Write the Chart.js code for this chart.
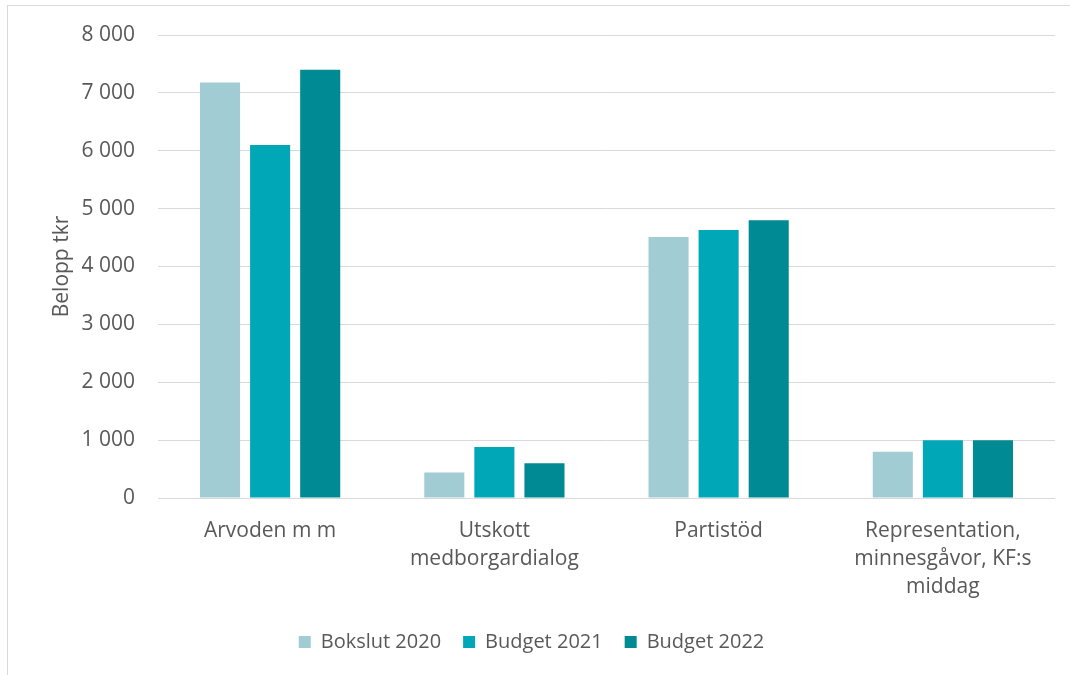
<!DOCTYPE html>
<html>
<head>
<meta charset="utf-8">
<script src="https://cdn.jsdelivr.net/npm/chart.js@4"></script>
<style>
    html, body { margin: 0; padding: 0; background: #fff; }
    #frame {
        position: absolute; left: 7px; top: 5px; width: 1063px; height: 670px;
        border-left: 1px solid #d9d9d9; border-top: 1px solid #d9d9d9;
    }
    #frame canvas { display: block; }
</style>
</head>
<body>
<div id="frame"><canvas id="mainChart" width="1062" height="669"></canvas></div>
<script>
    const categories = [
        'Arvoden m m',
        ['Utskott', 'medborgardialog'],
        'Partistöd',
        ['Representation,', 'minnesgåvor, KF:s', 'middag']
    ];
    const bokslut2020 = [7180, 440, 4510, 800];
    const budget2021 = [6100, 880, 4630, 1000];
    const budget2022 = [7400, 600, 4800, 1000];
    const yTicks = [0, 1000, 2000, 3000, 4000, 5000, 6000, 7000, 8000];

    const textColor = '#595959';
    const fontFamily = '"Open Sans", "Noto Sans", sans-serif';

    const ctx = document.getElementById('mainChart').getContext('2d');
    new Chart(ctx, {
        type: 'bar',
        data: {
            labels: categories,
            datasets: [
                { label: 'Bokslut 2020', data: bokslut2020, backgroundColor: '#A2CCD3' },
                { label: 'Budget 2021', data: budget2021, backgroundColor: '#00A8B7' },
                { label: 'Budget 2022', data: budget2022, backgroundColor: '#008A94' }
            ]
        },
        options: {
            responsive: false,
            animation: false,
            categoryPercentage: 0.67,
            barPercentage: 0.8,
            layout: { padding: { top: 29, right: 15, bottom: 13, left: 0 } },
            plugins: {
                tooltip: { enabled: false },
                legend: {
                    position: 'bottom',
                    labels: {
                        color: textColor,
                        font: { family: fontFamily, size: 20 },
                        boxWidth: 12,
                        boxHeight: 12,
                        padding: 22
                    }
                }
            },
            scales: {
                x: {
                    grid: { display: false },
                    border: { display: false },
                    ticks: {
                        color: textColor,
                        font: { family: fontFamily, size: 21, lineHeight: 1.33 },
                        padding: 11,
                        maxRotation: 0,
                        autoSkip: false
                    },
                    afterFit: (scale) => { scale.height = 112; }
                },
                y: {
                    min: 0,
                    max: 8000,
                    afterBuildTicks: (scale) => { scale.ticks = yTicks.map(v => ({ value: v })); },
                    grid: { color: '#d9d9d9', lineWidth: 1, drawTicks: false },
                    border: { display: false },
                    ticks: {
                        color: textColor,
                        font: { family: fontFamily, size: 21 },
                        padding: 23,
                        callback: (v) => v.toLocaleString('sv-SE').replace(/\s/g, ' ')
                    },
                    title: {
                        display: true,
                        text: 'Belopp tkr',
                        color: textColor,
                        font: { family: fontFamily, size: 21 },
                        padding: { top: 41, bottom: 0 }
                    },
                    afterFit: (scale) => {
                        scale.width = 150;
                        scale.paddingTop = 0;
                        scale.paddingBottom = 0;
                    }
                }
            }
        }
    });
</script>
</body>
</html>
